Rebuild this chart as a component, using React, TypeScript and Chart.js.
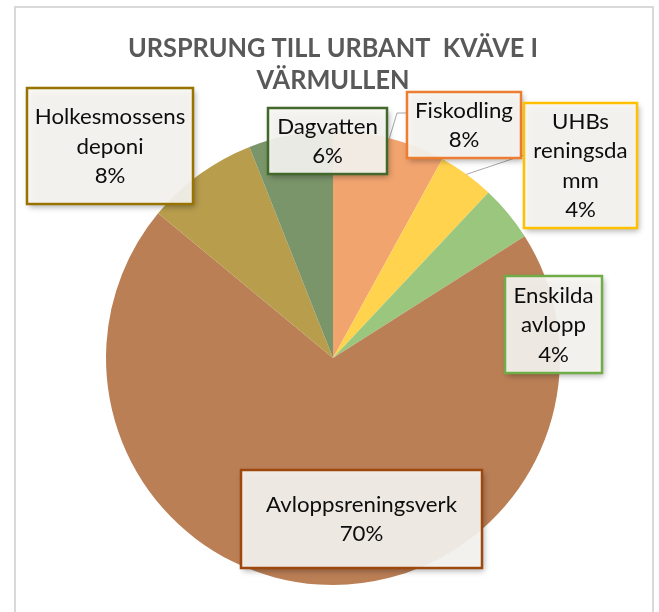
import React, { useEffect, useRef } from "react";
import { Chart, registerables } from "chart.js";

Chart.register(...registerables);

// ---- data ----
const categories = [
  "Fiskodling",
  "UHBs reningsdamm",
  "Enskilda avlopp",
  "Avloppsreningsverk",
  "Holkesmossens deponi",
  "Dagvatten",
];
const values = [8, 4, 4, 70, 8, 6];
const labelLines = [
  ["Fiskodling"],
  ["UHBs", "reningsda", "mm"],
  ["Enskilda", "avlopp"],
  ["Avloppsreningsverk"],
  ["Holkesmossens", "deponi"],
  ["Dagvatten"],
];
const percentLabels = ["8%", "4%", "4%", "70%", "8%", "6%"];
const titleLines = ["URSPRUNG TILL URBANT  KVÄVE I", "VÄRMULLEN"];

// ---- styles / layout ----
const sliceColors = ["#F2A46F", "#FFD34D", "#9BC67E", "#BB7F56", "#B89D4D", "#7B956B"];
const edgeColors = ["#ED7D31", "#FFC000", "#70AD47", "#9E480E", "#997300", "#43682B"];
// label boxes: [x, y, w, h]
const labelBoxes = [
  [407, 92, 114, 66],
  [524, 103, 113, 125],
  [505, 276, 97, 97],
  [241, 470, 241, 98],
  [27, 88, 166, 116],
  [268, 108, 119, 66],
];
// leader line intermediate points (box side first), null = no leader
const leaderPaths: (number[][] | null)[] = [
  [[407, 113], [397, 113]],
  [[524, 155]],
  null,
  null,
  null,
  null,
];

const labelPlugin = {
  id: "calloutLabels",
  afterDraw(chart: any) {
    const ctx = chart.ctx as CanvasRenderingContext2D;
    const meta = chart.getDatasetMeta(0);

    // outer frame
    ctx.save();
    ctx.strokeStyle = "#D9D9D9";
    ctx.lineWidth = 2;
    ctx.strokeRect(15, 7, 638, 620);
    ctx.restore();

    // leader lines
    ctx.save();
    ctx.strokeStyle = "#A6A6A6";
    ctx.lineWidth = 1;
    meta.data.forEach((arc: any, i: number) => {
      const path = leaderPaths[i];
      if (!path) return;
      const p = arc.getProps(["x", "y", "startAngle", "endAngle", "outerRadius"], true);
      const mid = (p.startAngle + p.endAngle) / 2;
      const ax = p.x + Math.cos(mid) * p.outerRadius;
      const ay = p.y + Math.sin(mid) * p.outerRadius;
      ctx.beginPath();
      ctx.moveTo(path[0][0], path[0][1]);
      for (let k = 1; k < path.length; k++) ctx.lineTo(path[k][0], path[k][1]);
      ctx.lineTo(ax, ay);
      ctx.stroke();
    });
    ctx.restore();

    // label font fit
    const labelFont = "22px Lato";
    ctx.save();
    ctx.font = labelFont;
    const labelScale = 191 / ctx.measureText("Avloppsreningsverk").width;
    ctx.restore();

    // boxes
    labelBoxes.forEach((b, i) => {
      const [x, y, w, h] = b;
      ctx.save();
      ctx.shadowColor = "rgba(0,0,0,0.35)";
      ctx.shadowBlur = 6;
      ctx.shadowOffsetX = 2;
      ctx.shadowOffsetY = 3;
      ctx.fillStyle = "rgba(250,248,245,0.9)";
      ctx.fillRect(x, y, w, h);
      ctx.restore();
      ctx.save();
      ctx.strokeStyle = edgeColors[i];
      ctx.lineWidth = 2.5;
      ctx.strokeRect(x, y, w, h);
      ctx.restore();

      const lines = [...labelLines[i], percentLabels[i]];
      const lh = 29.5;
      const cy = y + h / 2;
      const first = cy - ((lines.length - 1) * lh) / 2;
      ctx.save();
      ctx.fillStyle = "#0D0D0D";
      ctx.font = labelFont;
      ctx.textAlign = "center";
      ctx.textBaseline = "alphabetic";
      lines.forEach((t, k) => {
        ctx.save();
        ctx.translate(x + w / 2, first + k * lh + 7.5);
        ctx.scale(labelScale, 1);
        ctx.fillText(t, 0, 0);
        ctx.restore();
      });
      ctx.restore();
    });

    // title
    ctx.save();
    ctx.fillStyle = "#595959";
    ctx.font = "bold 26px Lato";
    ctx.textAlign = "center";
    const tScale = 410 / ctx.measureText(titleLines[0]).width;
    const baselines = [57, 89];
    titleLines.forEach((t, k) => {
      ctx.save();
      ctx.translate(333, baselines[k]);
      ctx.scale(tScale, 1);
      ctx.fillText(t, 0, 0);
      ctx.restore();
    });
    ctx.restore();
  },
};

export default function App() {
  const ref = useRef<HTMLCanvasElement | null>(null);
  useEffect(() => {
    if (!ref.current) return;
    const chart = new Chart(ref.current, {
      type: "pie",
      data: {
        labels: categories,
        datasets: [
          {
            data: values,
            backgroundColor: sliceColors,
            borderWidth: 0,
          },
        ],
      },
      options: {
        responsive: false,
        animation: false,
        events: [],
        layout: { padding: { left: 106, right: 99, top: 131, bottom: 27 } },
        plugins: {
          legend: { display: false },
          title: { display: false },
          tooltip: { enabled: false },
        },
      },
      plugins: [labelPlugin],
    });
    return () => chart.destroy();
  }, []);
  return (
    <div style={{ position: "absolute", left: 0, top: 0, width: 659, height: 612, background: "#fff" }}>
      <canvas ref={ref} width={659} height={612} />
    </div>
  );
}
